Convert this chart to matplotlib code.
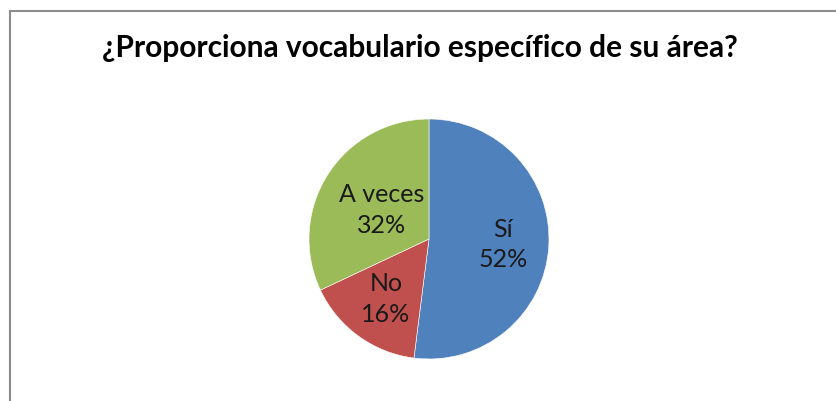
import matplotlib
matplotlib.use("Agg")
import matplotlib.pyplot as plt
import numpy as np

title = "¿Proporciona vocabulario específico de su área?"
categories = ["Sí", "No", "A veces"]
values = [52, 16, 32]
colors = ["#4F81BD", "#C0504D", "#9BBB59"]

plt.rcParams['font.family'] = ['Lato', 'DejaVu Sans']

W, H = 836, 402
fig = plt.figure(figsize=(W / 100, H / 100), dpi=100)
fig.patch.set_facecolor("white")

# chart border (left and top visible)
fig.add_artist(plt.Line2D([10 / W, 10 / W], [0, 1 - 12 / H], color="#8c8c8c", lw=1.5))
fig.add_artist(plt.Line2D([10 / W, 1], [1 - 12 / H, 1 - 12 / H], color="#8c8c8c", lw=1.5))

cx, cy, r = 429, 240, 120
ax = fig.add_axes([(cx - r) / W, (H - cy - r) / H, 2 * r / W, 2 * r / H])
labels = [f"{c}\n{v}%" for c, v in zip(categories, values)]
wedges, texts = ax.pie(values, colors=colors, startangle=90, counterclock=False,
                       labels=labels, labeldistance=0.6,
                       wedgeprops=dict(edgecolor="white", linewidth=0.4),
                       textprops=dict(fontsize=18, color="#1a1a1a", ha="center", va="center"))
dists = [0.62, 0.61, 0.47]
for w, t, d in zip(wedges, texts, dists):
    ang = np.deg2rad((w.theta1 + w.theta2) / 2)
    t.set_position((d * np.cos(ang), d * np.sin(ang)))
    t.set_ha("center")
    t.set_va("center")
    t.set_linespacing(1.4)
ax.set_xlim(-1, 1)
ax.set_ylim(-1, 1)
ax.set_aspect("equal")

fig.text(420 / W, 1 - 48 / H, title, ha="center", va="center",
         fontsize=21.5, fontweight="bold", color="#000000")

fig.savefig("out.png", dpi=100)
